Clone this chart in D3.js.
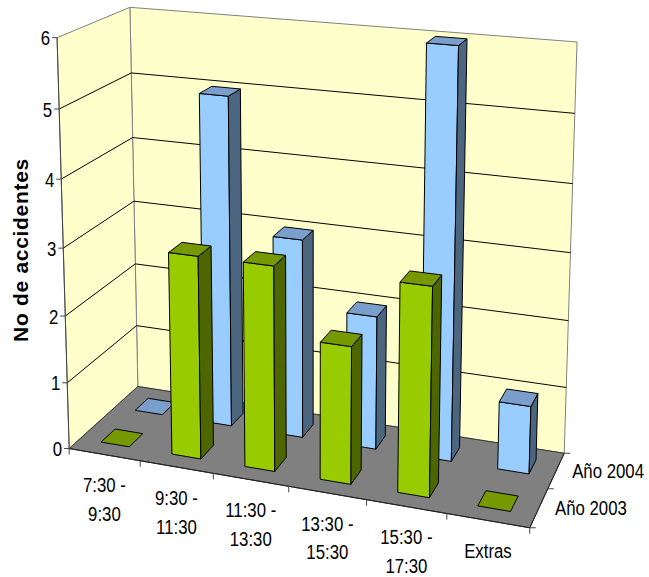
<!DOCTYPE html>
<html>
<head>
<meta charset="utf-8">
<script src="https://cdn.jsdelivr.net/npm/d3@7"></script>
<style>
  html, body { margin: 0; padding: 0; background: #ffffff; }
  svg { display: block; }
  text { font-family: "Liberation Sans", Arial, sans-serif; fill: #000; }
</style>
</head>
<body>
<svg id="chart" width="649" height="577"></svg>
<script>
// ---- data ----
const categories = ["7:30 - 9:30", "9:30 - 11:30", "11:30 - 13:30", "13:30 - 15:30", "15:30 - 17:30", "Extras"];
const series = ["Año 2003", "Año 2004"];
const values2003 = [0, 3, 3, 2, 3, 0];
const values2004 = [0, 5, 3, 2, 6, 1];
const valueTicks = [0, 1, 2, 3, 4, 5, 6];
const axisTitle = "No de accidentes";

// ---- 3D plot box: X spans categories, Y spans series (front to back), Z spans values ----
const X_MAX = categories.length, Y_MAX = series.length, Z_MAX = 6;

// screen positions of the plot box corners, used to calibrate the perspective camera
const boxAnchors = [
  [[0, 0, 0], [69, 448]],
  [[X_MAX, 0, 0], [530, 528]],
  [[X_MAX, Y_MAX, 0], [564, 453]],
  [[0, Y_MAX, 0], [138, 387]],
  [[0, 0, Z_MAX], [57, 38]],
  [[0, Y_MAX, Z_MAX], [130, 7]],
  [[X_MAX, Y_MAX, Z_MAX], [577, 42]]
];

function solveLinear(M, b) {
  const n = b.length;
  const A = M.map((r, i) => [...r, b[i]]);
  for (let c = 0; c < n; c++) {
    let p = c;
    for (let r = c + 1; r < n; r++) if (Math.abs(A[r][c]) > Math.abs(A[p][c])) p = r;
    [A[c], A[p]] = [A[p], A[c]];
    for (let r = 0; r < n; r++) {
      if (r === c) continue;
      const f = A[r][c] / A[c][c];
      for (let k = c; k <= n; k++) A[r][k] -= f * A[c][k];
    }
  }
  return A.map((r, i) => r[n] / r[i]);
}

// least-squares fit of a 3x4 projection matrix (last entry fixed to 1)
function fitCamera(anchors) {
  const rows = [], rhs = [];
  anchors.forEach(([[X, Y, Z], [u, v]]) => {
    rows.push([X, Y, Z, 1, 0, 0, 0, 0, -u * X, -u * Y, -u * Z]); rhs.push(u);
    rows.push([0, 0, 0, 0, X, Y, Z, 1, -v * X, -v * Y, -v * Z]); rhs.push(v);
  });
  const n = 11;
  const N = d3.range(n).map(i => d3.range(n).map(j => d3.sum(rows, r => r[i] * r[j])));
  const r = d3.range(n).map(i => d3.sum(rows, (row, k) => row[i] * rhs[k]));
  return solveLinear(N, r);
}

const P = fitCamera(boxAnchors);
function project(X, Y, Z) {
  const w = P[8] * X + P[9] * Y + P[10] * Z + 1;
  return [(P[0] * X + P[1] * Y + P[2] * Z + P[3]) / w,
          (P[4] * X + P[5] * Y + P[6] * Z + P[7]) / w];
}
// camera centre in world space
const camera = solveLinear(
  [[P[0], P[1], P[2]], [P[4], P[5], P[6]], [P[8], P[9], P[10]]],
  [-P[3], -P[7], -1]
);

// ---- scales ----
const xSlot = d3.scaleBand().domain(categories).range([0, X_MAX]);
const xBar = d3.scaleBand().domain(categories).range([0, X_MAX]).paddingInner(0.6).paddingOuter(0.3);
const ySlot = d3.scaleBand().domain(series).range([0, Y_MAX]);
const yBar = d3.scaleBand().domain(series).range([0, Y_MAX]).paddingInner(0.6).paddingOuter(0.3);
const z = d3.scaleLinear().domain([0, 6]).range([0, Z_MAX]);

const svg = d3.select("#chart");
const line = d3.line();
const poly = pts => line(pts.map(p => project(...p))) + "Z";

// ---- walls ----
const gWalls = svg.append("g");
gWalls.append("path")
  .attr("d", poly([[0, Y_MAX, 0], [X_MAX, Y_MAX, 0], [X_MAX, Y_MAX, Z_MAX], [0, Y_MAX, Z_MAX]]))
  .attr("fill", "#FFFFCC").attr("stroke", "#808080").attr("stroke-width", 1);
gWalls.append("path")
  .attr("d", poly([[0, 0, 0], [0, Y_MAX, 0], [0, Y_MAX, Z_MAX], [0, 0, Z_MAX]]))
  .attr("fill", "#FFFFCC").attr("stroke", "#808080").attr("stroke-width", 1);

// gridlines
valueTicks.filter(v => v > 0 && v < 6).forEach(v => {
  gWalls.append("path")
    .attr("d", line([project(0, 0, z(v)), project(0, Y_MAX, z(v)), project(X_MAX, Y_MAX, z(v))]))
    .attr("fill", "none").attr("stroke", "#000").attr("stroke-width", 1);
});

// ---- floor ----
svg.append("path")
  .attr("d", poly([[0, 0, 0], [X_MAX, 0, 0], [X_MAX, Y_MAX, 0], [0, Y_MAX, 0]]))
  .attr("fill", "#808080").attr("stroke", "#333").attr("stroke-width", 1);

// ---- axes ----
const gAxes = svg.append("g").attr("stroke", "#444").attr("stroke-width", 1);
gAxes.append("path").attr("d", line([project(0, 0, 0), project(0, 0, Z_MAX)]));
gAxes.append("path").attr("d", line([project(0, 0, 0), project(X_MAX, 0, 0)])).attr("stroke", "#222");
gAxes.append("path").attr("d", line([project(X_MAX, 0, 0), project(X_MAX, Y_MAX, 0)])).attr("stroke", "#222");

const labelScale = "scale(0.8,1)";
valueTicks.forEach(v => {
  const [px, py] = project(0, 0, z(v));
  gAxes.append("path").attr("d", line([[px - 5, py], [px, py]]));
  svg.append("text")
    .attr("transform", `translate(${px - 7},${py}) ${labelScale}`)
    .attr("text-anchor", "end").attr("dy", "0.36em")
    .attr("font-size", 21).text(v);
});

d3.range(categories.length + 1).forEach(i => {
  const [px, py] = project(i, 0, 0);
  gAxes.append("path").attr("d", line([[px, py], [px, py + 6]]));
});
categories.forEach(c => {
  const [px, py] = project(xSlot(c) + xSlot.bandwidth() / 2, 0, 0);
  const parts = c.split(" - ");
  const lines = parts.length > 1 ? [parts[0] + " -", parts[1]] : parts;
  const t = svg.append("text")
    .attr("transform", `translate(${px},${py + 30}) ${labelScale}`)
    .attr("text-anchor", "middle").attr("font-size", 21);
  lines.forEach((l, k) => t.append("tspan").attr("x", 0).attr("y", k * 29).attr("dy", "0.36em").text(l));
});

d3.range(series.length + 1).forEach(j => {
  const [px, py] = project(X_MAX, j, 0);
  gAxes.append("path").attr("d", line([[px, py], [px + 6, py]]));
});
series.forEach(s => {
  const [px, py] = project(X_MAX, ySlot(s) + ySlot.bandwidth() / 2, 0);
  svg.append("text")
    .attr("transform", `translate(${px + 16},${py}) ${labelScale}`)
    .attr("text-anchor", "start").attr("dy", "0.36em")
    .attr("font-size", 21).text(s);
});

svg.append("text")
  .attr("transform", "translate(28,250) rotate(-90)")
  .attr("text-anchor", "middle")
  .attr("font-size", 21).attr("font-weight", "bold")
  .attr("letter-spacing", "0.7px")
  .text(axisTitle);

// ---- bars ----
const palette = {
  "Año 2003": { front: "#99CC00", side: "#4D6600", top: "#779900" },
  "Año 2004": { front: "#99CCFF", side: "#4D6680", top: "#7A9FCC" }
};
const bars = [];
series.forEach((s, si) => {
  const vals = si === 0 ? values2003 : values2004;
  categories.forEach((c, ci) => {
    const x0 = xBar(c), x1 = x0 + xBar.bandwidth();
    const y0 = yBar(s), y1 = y0 + yBar.bandwidth();
    const h = z(vals[ci]);
    const cx = (x0 + x1) / 2, cy = (y0 + y1) / 2, cz = h / 2;
    const dist = Math.hypot(cx - camera[0], cy - camera[1], cz - camera[2]);
    bars.push({ s, x0, x1, y0, y1, h, dist });
  });
});
bars.sort((a, b) => b.dist - a.dist);

const gBars = svg.append("g").attr("stroke", "#000").attr("stroke-width", 1).attr("stroke-linejoin", "round");
bars.forEach(b => {
  const { x0, x1, y0, y1, h } = b;
  const faces = [
    { kind: "front", n: [0, -1, 0], p: [x0, y0, h / 2], pts: [[x0, y0, 0], [x1, y0, 0], [x1, y0, h], [x0, y0, h]] },
    { kind: "front", n: [0, 1, 0], p: [x0, y1, h / 2], pts: [[x1, y1, 0], [x0, y1, 0], [x0, y1, h], [x1, y1, h]] },
    { kind: "side", n: [1, 0, 0], p: [x1, y0, h / 2], pts: [[x1, y0, 0], [x1, y1, 0], [x1, y1, h], [x1, y0, h]] },
    { kind: "side", n: [-1, 0, 0], p: [x0, y0, h / 2], pts: [[x0, y0, 0], [x0, y0, h], [x0, y1, h], [x0, y1, 0]] },
    { kind: "top", n: [0, 0, 1], p: [x0, y0, h], pts: [[x0, y0, h], [x1, y0, h], [x1, y1, h], [x0, y1, h]] }
  ];
  faces.forEach(f => {
    if (f.kind !== "top" && h <= 0) return;
    const d = f.n[0] * (camera[0] - f.p[0]) + f.n[1] * (camera[1] - f.p[1]) + f.n[2] * (camera[2] - f.p[2]);
    if (d <= 0) return;
    gBars.append("path").attr("d", poly(f.pts)).attr("fill", palette[b.s][f.kind]);
  });
});
</script>
</body>
</html>
